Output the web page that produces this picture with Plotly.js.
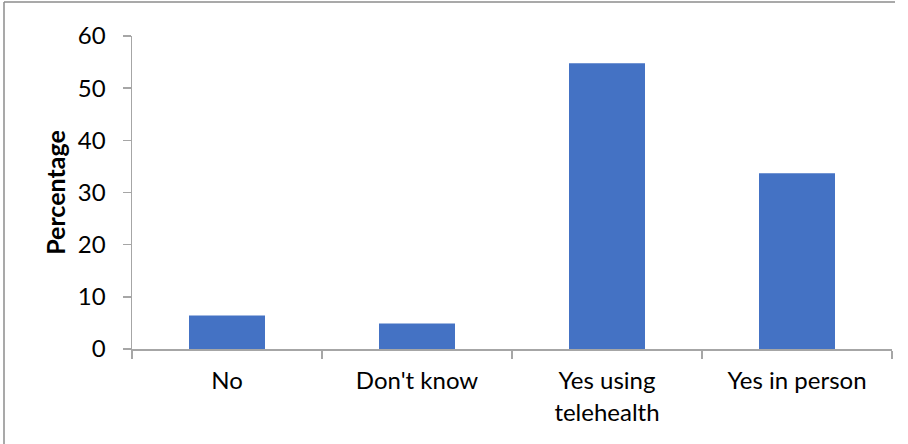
<!DOCTYPE html>
<html>
<head>
<meta charset="utf-8">
<script src="https://cdn.plot.ly/plotly-3.0.1.min.js"></script>
<style>
  html, body { margin: 0; padding: 0; background: #fff; }
  #chart { width: 908px; height: 444px; }
</style>
</head>
<body>
<div id="chart"></div>
<script>
// Responses, in percent
const categories = ["No", "Don't know", "Yes using<br>telehealth", "Yes in person"];
const percentages = [6.4, 4.9, 54.8, 33.7];
const yTicks = [0, 10, 20, 30, 40, 50, 60];

const axisGray = "#a6a6a6";
const labelFont = { family: "Lato, 'Open Sans', sans-serif", size: 24, color: "#000" };

const trace = {
  type: "bar",
  x: categories,
  y: percentages,
  marker: { color: "#4472c4", line: { width: 0 } },
  hoverinfo: "x+y"
};

const layout = {
  width: 908,
  height: 444,
  margin: { l: 132, r: 16, t: 36, b: 95 },
  paper_bgcolor: "#fff",
  plot_bgcolor: "#fff",
  bargap: 0.6,
  showlegend: false,
  font: labelFont,
  xaxis: {
    type: "category",
    range: [-0.5, 3.5],
    showline: true,
    linecolor: axisGray,
    linewidth: 1.5,
    ticks: "outside",
    tickson: "boundaries",
    ticklen: 8,
    tickwidth: 1.5,
    tickcolor: axisGray,
    tickfont: labelFont,
    ticklabelstandoff: 10,
    showgrid: false,
    zeroline: false,
    fixedrange: true
  },
  yaxis: {
    range: [0, 60],
    tickvals: yTicks,
    ticktext: yTicks.map(String),
    showline: true,
    linecolor: axisGray,
    linewidth: 1.5,
    ticks: "outside",
    ticklen: 8,
    tickwidth: 1.5,
    tickcolor: axisGray,
    tickfont: labelFont,
    ticklabelstandoff: 12,
    showgrid: false,
    zeroline: false,
    fixedrange: true,
    title: {
      text: "<b>Percentage</b>",
      font: { family: "Lato, 'Open Sans', sans-serif", size: 25, color: "#000" },
      standoff: 5
    }
  },
  shapes: [
    // chart frame
    { type: "line", xref: "paper", yref: "paper", layer: "below",
      x0: -128 / 760, x1: 763 / 760, y0: 1 + 34 / 313, y1: 1 + 34 / 313,
      line: { color: "#8c8c8c", width: 1.5 } },
    { type: "line", xref: "paper", yref: "paper", layer: "below",
      x0: -128 / 760, x1: -128 / 760, y0: 1 + 34 / 313, y1: -96 / 313,
      line: { color: "#8c8c8c", width: 1.5 } }
  ]
};

Plotly.newPlot("chart", [trace], layout, { displayModeBar: false, staticPlot: true });
</script>
</body>
</html>
